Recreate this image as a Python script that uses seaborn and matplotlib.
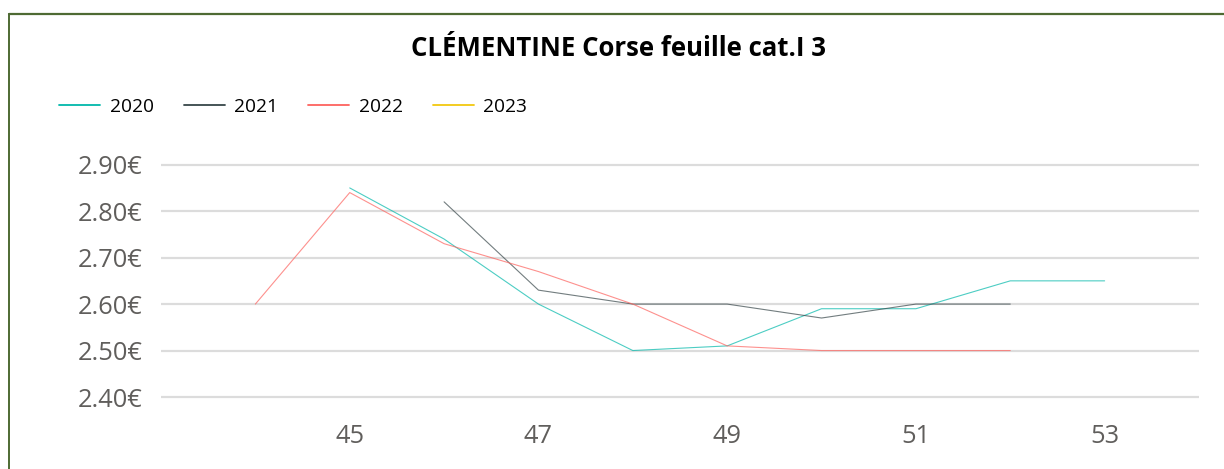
import matplotlib
matplotlib.use("Agg")
import matplotlib.pyplot as plt
from matplotlib.lines import Line2D
import seaborn as sns
import pandas as pd
import numpy as np

title = "CLÉMENTINE Corse feuille cat.I 3"
years = ["2020", "2021", "2022", "2023"]
colors = ["#01B8AA", "#374649", "#FD625E", "#F2C80F"]

weeks_2020 = [45, 46, 47, 48, 49, 50, 51, 52, 53]
price_2020 = [2.85, 2.74, 2.60, 2.50, 2.51, 2.59, 2.59, 2.65, 2.65]
weeks_2021 = [46, 47, 48, 49, 50, 51, 52]
price_2021 = [2.82, 2.63, 2.60, 2.60, 2.57, 2.60, 2.60]
weeks_2022 = [44, 45, 46, 47, 48, 49, 50, 51, 52]
price_2022 = [2.60, 2.84, 2.73, 2.67, 2.60, 2.51, 2.50, 2.50, 2.50]
weeks_2023 = []
price_2023 = []

y_ticks = [2.40, 2.50, 2.60, 2.70, 2.80, 2.90]
x_ticks = [45, 47, 49, 51, 53]

frames = []
for yr, w, p in [("2020", weeks_2020, price_2020), ("2021", weeks_2021, price_2021),
                 ("2022", weeks_2022, price_2022), ("2023", weeks_2023, price_2023)]:
    frames.append(pd.DataFrame({"week": w, "price": p, "year": yr}))
df = pd.concat([f for f in frames if len(f)], ignore_index=True)

sns.set_theme(style="white")
plt.rcParams["font.family"] = ["Open Sans", "DejaVu Sans"]

fig = plt.figure(figsize=(12.24, 4.69), dpi=100)
ax = fig.add_axes([161/1224, 1-401.65/469, (1199-161)/1224, (401.65-160.05)/469])

palette = dict(zip(years, colors))
sns.lineplot(data=df, x="week", y="price", hue="year", palette=palette,
             hue_order=[y for y in years if y in df["year"].unique()],
             estimator=None, linewidth=0.8, alpha=0.7, ax=ax, legend=False)

ax.set_xlim(43, 54)
ax.set_ylim(2.39, 2.91)
ax.set_yticks(y_ticks)
ax.set_yticklabels([f"{v:.2f}€" for v in y_ticks])
ax.set_xticks(x_ticks)
ax.set_xticklabels([str(x) for x in x_ticks])
ax.yaxis.grid(True, color="#dcdcdc", linewidth=1.6)
ax.xaxis.grid(False)
ax.set_axisbelow(True)
for s in ax.spines.values():
    s.set_visible(False)
ax.set_xlabel("")
ax.set_ylabel("")
ax.tick_params(axis="both", length=0, labelsize=18.3, labelcolor="#605E5C")
ax.tick_params(axis="y", pad=13)
ax.tick_params(axis="x", pad=16)

fig.text(0.5055, 1-48.5/469, title, ha="center", va="center", fontsize=18.5,
         fontweight="bold", color="#000000")

handles = [Line2D([0], [0], color=c, lw=1.3) for c in colors]
fig.legend(handles, years, loc="center left", bbox_to_anchor=(59/1224, 1-106.5/469),
           ncol=4, frameon=False, fontsize=13.8, handlelength=2.15,
           handletextpad=0.5, columnspacing=1.55, borderaxespad=0, borderpad=0,
           labelcolor="#000000")

# frame border (top and left)
fig.add_artist(Line2D([8.5/1224, 1], [1-14/469, 1-14/469], color="#4E6A33", lw=1.6,
                      transform=fig.transFigure))
fig.add_artist(Line2D([8.5/1224, 8.5/1224], [0, 1-14/469], color="#4E6A33", lw=1.4,
                      transform=fig.transFigure))

fig.savefig("out.png", dpi=100, facecolor="white")
